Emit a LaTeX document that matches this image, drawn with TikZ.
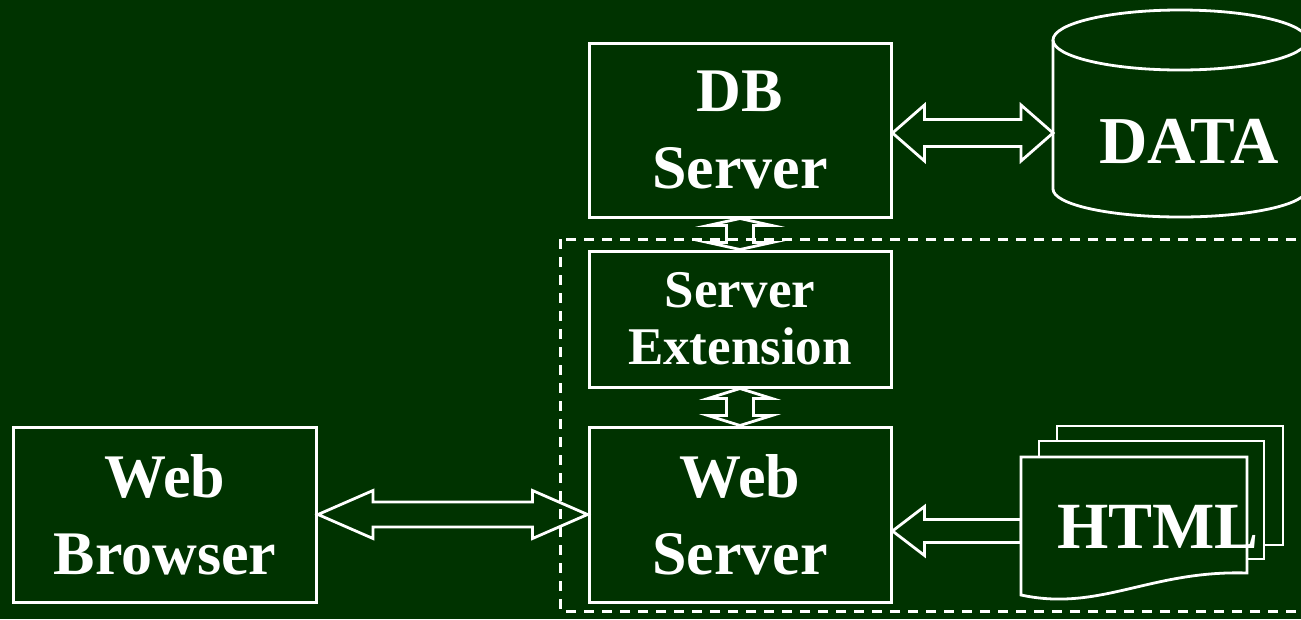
\documentclass[tikz,border=0pt]{standalone}
\usepackage{fontspec}
\setmainfont{Liberation Serif}
\usetikzlibrary{calc}
\definecolor{bg}{RGB}{0,51,0}
\newcommand\mydblh[5]{\draw[ba] (#1) -- ++(#3,-#4) -- ++(0,#4-#5) -- ($(#2)+(-#3,-#5)$) -- ++(0,-#4+#5) -- (#2) -- ++(-#3,#4) -- ++(0,-#4+#5) -- ($(#1)+(#3,#5)$) -- ++(0,#4-#5) -- cycle;}
\newcommand\mydblv[5]{\draw[ba] (#1) -- ++(-#4,#3) -- ++(#4-#5,0) -- ($(#2)+(-#5,-#3)$) -- ++(-#4+#5,0) -- (#2) -- ++(#4,-#3) -- ++(-#4+#5,0) -- ($(#1)+(#5,#3)$) -- ++(#4-#5,0) -- cycle;}
\begin{document}
\begin{tikzpicture}[x=1pt,y=-1pt,
  box/.style={draw=white, line width=3pt, fill=bg, minimum width=302pt, inner sep=0pt, text=white, font=\bfseries\fontsize{62}{77}\selectfont, align=center},
  ba/.style={draw=white, line width=2.8pt, line join=miter},
  doc/.style={draw=white, line width=2.8pt, fill=bg},
  lbl/.style={text=white, inner sep=0pt, font=\bfseries\fontsize{66}{77}\selectfont}
]
\useasboundingbox (0,0) rectangle (1301,619);
\clip (0,0) rectangle (1301,619);
\fill[bg] (0,0) rectangle (1301,619);

% boxes
\node[box, minimum height=174pt] (db) at (740,130) {DB\\Server};
\node[box, minimum height=136pt, font=\bfseries\fontsize{53}{57}\selectfont] (se) at (740,319) {Server\\Extension};
\node[box, minimum height=175pt] (ws) at (740,514.5) {Web\\Server};
\node[box, minimum height=175pt, minimum width=303pt] (wb) at (165,514.5) {Web\\Browser};

% cylinder
\fill[bg] (1053,40) rectangle (1307,189);
\draw[white, line width=2.8pt, fill=bg] (1053,40) -- (1053,189) .. controls (1053,204.5) and (1109.9,217) .. (1180,217) .. controls (1250.1,217) and (1307,204.5) .. (1307,189) -- (1307,40);
\draw[white, line width=2.8pt] (1180,40) ellipse[x radius=127, y radius=30];
\node[lbl, font=\bfseries\fontsize{67}{77}\selectfont] (data) at (1189,141) {DATA};
\coordinate (dataw) at (1053,133);

% html documents
\coordinate (docw) at (1021,531);
\draw[ba] (ws.east |- docw) -- ++(32,-24.5) -- ++(0,13) -- ($(docw)+(0,-11.5)$) -- ($(docw)+(0,11.5)$) -- ($(ws.east |- docw)+(32,11.5)$) -- ++(0,13) -- cycle;
\draw[doc] (1057,426) rectangle (1283,545);
\draw[doc] (1039,441) rectangle (1264,559);
\draw[doc] (1021,457) -- (1247,457) -- (1247,573) .. controls (1150,570) and (1100,612) .. (1021,595) -- cycle;
\node[lbl] (html) at (1158,527) {HTML};

% arrows
\mydblh{wb.east}{ws.west}{55}{24}{12.5}
\coordinate (dbe) at (db.east |- dataw);
\mydblh{dbe}{dataw}{32}{28}{13.5}
\mydblv{db.south}{se.north}{7}{32}{13.5}
\mydblv{se.south}{ws.north}{10}{32}{13.5}

% dashed region
\draw[white, line width=3pt, dash pattern=on 10pt off 8pt] (560,239) rectangle (1330,611);
\end{tikzpicture}
\end{document}
